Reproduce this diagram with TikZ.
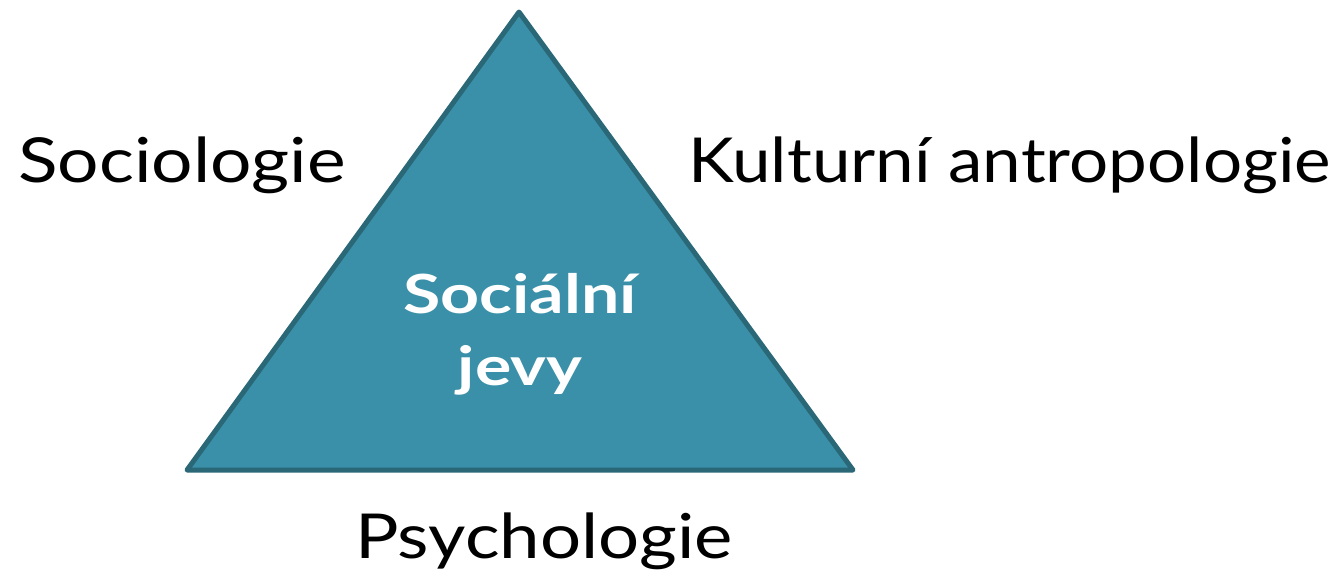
\documentclass[tikz,border=0pt]{standalone}
\usepackage{fontspec}
\setmainfont{Lato}[FakeStretch=1.18]
\newfontfamily\kfont{Lato}[FakeStretch=1.115]
\newfontfamily\pfont{Lato}[FakeStretch=1.17]
\newfontfamily\innerfont{Lato Bold}[FakeStretch=1.26]
\definecolor{trifill}{HTML}{3A90A8}
\definecolor{triedge}{HTML}{2A6878}
\begin{document}
\begin{tikzpicture}[x=1pt,y=-1pt,
  lbl/.style={font=\fontsize{62}{66}\selectfont, text=black, inner sep=0pt, anchor=base west},
  inner/.style={font=\innerfont\fontsize{54}{70}\selectfont, text=white, inner sep=0pt, anchor=base}]
\useasboundingbox[fill=white] (0,0) rectangle (1341,576);
\coordinate (apex) at (519,12);
\coordinate (bl) at (187,470);
\coordinate (br) at (853,470);
\draw[fill=trifill, draw=triedge, line width=5pt, line join=round] (apex) -- (br) -- (bl) -- cycle;
\node[inner] (soc) at (520,313) {Sociální};
\node[inner] (jevy) at (520,385) {jevy};
\node[lbl] (s) at (18,182) {Sociologie};
\node[lbl] (k) at (688,182) {\kfont Kulturní antropologie};
\node[lbl] (p) at (355,558) {\pfont Psychologie};
\end{tikzpicture}
\end{document}
